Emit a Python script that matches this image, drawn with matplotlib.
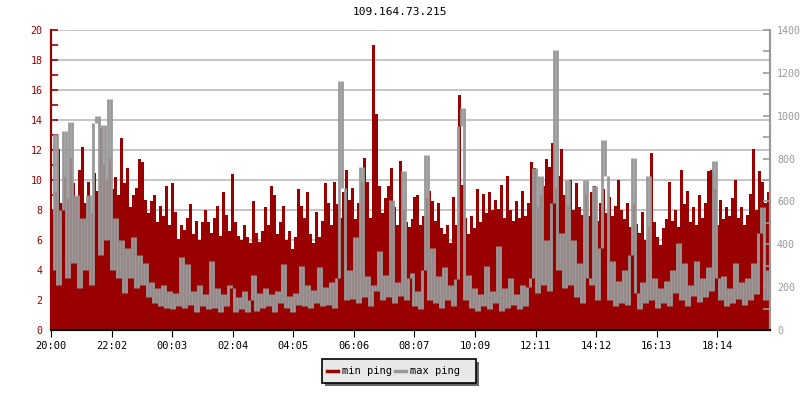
import numpy as np
import matplotlib.pyplot as plt
from matplotlib.patches import Rectangle
from matplotlib.lines import Line2D
from matplotlib.ticker import MultipleLocator

# ping history, one sample every 6 minutes starting 20:00
# min ping on the left scale, max ping on the right scale (ms)
min_ping = [
    8.0, 9.2, 12.1, 8.5, 10.2, 8.8, 11.5, 9.8, 8.9, 10.7,
    12.2, 8.5, 9.9, 7.8, 10.5, 9.3, 13.5, 11.0, 10.0, 11.4,
    9.4, 10.2, 9.0, 12.8, 9.8, 10.8, 8.2, 9.0, 9.5, 11.4,
    11.2, 8.7, 7.8, 8.6, 9.0, 7.2, 8.3, 7.6, 9.6, 7.0,
    9.8, 7.9, 6.1, 7.0, 6.7, 7.5, 8.4, 6.4, 7.3, 6.0,
    7.2, 8.0, 7.2, 6.5, 7.5, 8.3, 6.3, 9.2, 7.7, 6.6,
    10.4, 7.2, 6.3, 6.0, 7.0, 6.2, 5.8, 8.6, 6.5, 5.9,
    6.6, 8.2, 7.0, 9.6, 9.0, 6.4, 7.2, 8.3, 6.0, 6.6,
    5.4, 6.2, 9.4, 8.3, 7.5, 9.2, 6.4, 5.8, 7.9, 6.2,
    7.3, 9.8, 8.5, 7.0, 9.9, 8.4, 7.5, 9.2, 10.7, 8.7,
    9.5, 7.4, 8.5, 9.9, 11.5, 9.9, 7.5, 19.0, 14.4, 9.6,
    7.8, 8.8, 9.6, 10.8, 8.2, 7.0, 11.3, 8.0, 7.2, 6.9,
    7.4, 8.9, 9.0, 7.0, 7.6, 8.8, 9.3, 8.6, 7.3, 8.5,
    6.8, 6.4, 7.0, 5.8, 8.9, 7.0, 15.7, 9.7, 7.5, 6.4,
    7.6, 6.8, 9.4, 7.2, 9.1, 7.8, 9.2, 8.0, 8.7, 8.1,
    9.7, 7.5, 10.3, 8.0, 7.3, 8.6, 7.5, 9.3, 7.6, 8.5,
    11.2, 10.8, 8.2, 9.0, 9.6, 11.4, 10.9, 12.5, 9.5, 10.3,
    12.1, 9.0, 8.3, 10.0, 8.0, 9.8, 8.2, 7.7, 9.0, 7.6,
    9.2, 9.6, 7.3, 8.5, 9.4, 7.8, 8.9, 7.6, 8.3, 10.0,
    8.0, 7.4, 8.5, 6.9, 8.4, 7.1, 6.5, 7.9, 6.0, 6.9,
    11.8, 7.2, 6.2, 5.7, 6.8, 7.4, 9.9, 7.3, 8.0, 6.9,
    10.7, 8.4, 9.3, 7.2, 8.2, 7.0, 9.0, 7.5, 8.5, 10.6,
    10.7, 9.4, 7.0, 8.7, 7.4, 8.2, 7.6, 8.8, 10.0, 7.5,
    8.2, 7.0, 7.7, 9.1, 12.1, 8.0, 10.6, 9.9, 8.5, 9.2,
]
max_ping = [
    280, 917, 210, 560, 931, 245, 973, 315, 630, 196,
    525, 280, 630, 210, 966, 1001, 350, 959, 420, 1078,
    280, 525, 245, 420, 175, 385, 245, 434, 196, 350,
    210, 315, 154, 224, 126, 196, 112, 210, 105, 182,
    98, 175, 112, 343, 105, 308, 119, 182, 84, 210,
    112, 168, 98, 322, 105, 196, 84, 168, 112, 210,
    196, 84, 154, 98, 182, 84, 140, 259, 91, 175,
    105, 196, 112, 168, 84, 182, 126, 308, 105, 161,
    84, 175, 119, 301, 112, 210, 105, 189, 126, 294,
    112, 203, 119, 224, 105, 245, 1162, 665, 140, 280,
    147, 434, 126, 763, 154, 252, 112, 210, 182, 371,
    140, 259, 154, 609, 126, 224, 161, 742, 140, 245,
    266, 112, 182, 98, 280, 819, 140, 385, 126, 252,
    105, 294, 140, 210, 112, 238, 952, 1036, 140, 259,
    105, 196, 91, 168, 112, 301, 98, 182, 126, 392,
    91, 196, 105, 245, 119, 168, 98, 210, 112, 203,
    245, 756, 175, 721, 210, 420, 182, 595, 1309, 280,
    455, 196, 700, 210, 420, 154, 315, 126, 700, 245,
    210, 672, 140, 385, 889, 721, 140, 322, 112, 231,
    126, 280, 119, 350, 805, 175, 98, 224, 126, 721,
    140, 245, 105, 196, 126, 231, 112, 280, 175, 406,
    140, 315, 112, 210, 161, 322, 133, 245, 154, 294,
    182, 791, 245, 140, 252, 112, 196, 126, 315, 147,
    224, 119, 245, 140, 315, 168, 455, 574, 140, 280,
]
step_min = 6

tick_minutes = [0, 122, 243, 364, 485, 606, 727, 849, 971, 1092, 1213, 1334]
tick_labels = ["20:00", "22:02", "00:03", "02:04", "04:05", "06:06",
               "08:07", "10:09", "12:11", "14:12", "16:13", "18:14"]
series_names = ["min ping", "max ping"]

RED = '#990000'
GREY = '#999999'
FONT = 'DejaVu Sans Mono'
W, H = 800, 400

edges = np.arange(len(min_ping) + 1) * step_min
mx = np.array(max_ping)

fig = plt.figure(figsize=(8, 4), dpi=100)
ax = fig.add_axes([51 / W, 70 / H, 719 / W, 300 / H])
ax2 = ax.twinx()

# min ping as filled steps
ax.stairs(min_ping, edges, fill=True, color=RED, linewidth=0)
# max ping: a dense line, so mostly the vertical strokes between samples show
ax2.vlines(edges[1:-1], np.minimum(mx[:-1], mx[1:]), np.maximum(mx[:-1], mx[1:]),
           color=GREY, linewidth=2.0)

ax.set_xlim(0, edges[-1])
ax.set_ylim(0, 20)
ax2.set_ylim(0, 1400)

ax.set_axisbelow(True)
ax.yaxis.set_major_locator(MultipleLocator(2))
ax.yaxis.set_minor_locator(MultipleLocator(1))
ax.grid(axis='y', color='#bbbbbb', linewidth=1.2)
ax2.yaxis.set_major_locator(MultipleLocator(200))
ax2.yaxis.set_minor_locator(MultipleLocator(100))

ax.set_xticks(tick_minutes)
ax.set_xticklabels(tick_labels, fontfamily=FONT, fontsize=7.5)
ax.tick_params(axis='x', direction='out', length=5, color='black', pad=3)
ax.tick_params(axis='y', which='both', direction='in', length=5, color=RED,
               labelcolor=RED, labelsize=7.2, width=1.2, pad=6)
ax2.tick_params(axis='y', which='both', direction='in', length=5, color=GREY,
                labelcolor=GREY, labelsize=7.2, width=1.2, pad=5)
for lab in ax.get_yticklabels() + ax2.get_yticklabels():
    lab.set_fontfamily(FONT)

for a in (ax, ax2):
    a.spines['top'].set_visible(False)
    a.spines['left'].set_color(RED)
    a.spines['right'].set_color(GREY)
    a.spines['bottom'].set_color('black')
    a.spines['left'].set_linewidth(1.5)
    a.spines['right'].set_linewidth(1.5)
    a.spines['bottom'].set_linewidth(1.5)

fig.text(0.5, 1 - 12 / H, "109.164.73.215", ha='center', va='center',
         fontfamily=FONT, fontsize=8)

# legend box with a drop shadow, drawn in figure pixels
def px(x, y):
    return x / W, 1 - y / H

fig.patches.append(Rectangle(px(325, 386), 154 / W, 24 / H, transform=fig.transFigure,
                             facecolor='#666666', edgecolor='none', zorder=5))
fig.patches.append(Rectangle(px(322, 383), 154 / W, 24 / H, transform=fig.transFigure,
                             facecolor='#e8e8e8', edgecolor='black', linewidth=1.2,
                             zorder=6))
for (hx, tx), color, name in zip([(327, 342), (395, 410)], [RED, GREY], series_names):
    x0, yc = px(hx, 371)
    x1, _ = px(hx + 11, 371)
    fig.add_artist(Line2D([x0, x1], [yc, yc], transform=fig.transFigure,
                          color=color, linewidth=2.5, zorder=7))
    fig.text(*px(tx, 371), name, ha='left', va='center', fontfamily=FONT,
             fontsize=7.5, zorder=7)

fig.savefig('out.png', dpi=100)
